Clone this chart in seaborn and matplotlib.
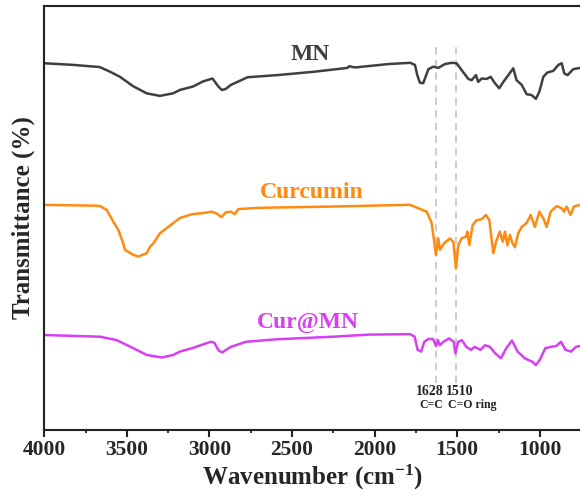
import numpy as np
import pandas as pd
import matplotlib
matplotlib.use("Agg")
import matplotlib.pyplot as plt
import seaborn as sns

# ---------------- data ----------------
mn_wn = [4000, 3821, 3664, 3602, 3542, 3463, 3380, 3300, 3221, 3179, 3100, 3040, 2982, 2948, 2926,
         2903, 2870, 2769, 2590, 2366, 2165, 2154, 2120, 1919, 1785, 1756, 1742, 1726, 1706, 1692,
         1675, 1645, 1615, 1575, 1534, 1504, 1474, 1433, 1413, 1387, 1373, 1352, 1322, 1298, 1272,
         1246, 1221, 1191, 1161, 1141, 1110, 1080, 1050, 1024, 1003, 979, 955, 919, 888, 868, 852,
         832, 798, 757]
mn_t = [86.5, 86.1, 85.6, 84.5, 83.3, 81.1, 79.4, 78.8, 79.4, 80.2, 81.0, 82.2, 82.9, 81.1, 80.2,
        80.4, 81.4, 83.2, 83.7, 84.5, 85.4, 85.8, 85.5, 86.3, 86.6, 86.1, 83.7, 81.9, 81.8, 83.3,
        85.1, 85.7, 85.4, 86.3, 86.6, 86.5, 84.9, 82.8, 82.5, 83.7, 82.1, 82.9, 82.8, 83.3, 81.8,
        80.6, 82.1, 83.7, 85.3, 82.5, 81.4, 79.2, 79.0, 78.1, 79.8, 83.3, 84.3, 84.7, 86.1, 86.5,
        84.1, 83.7, 85.1, 85.4]

cur_wn = [4000, 3687, 3662, 3622, 3582, 3552, 3522, 3512, 3461, 3431, 3380, 3360, 3340, 3300, 3219,
          3179, 3105, 3060, 3015, 2988, 2959, 2926, 2903, 2870, 2847, 2825, 2702, 2254, 1807, 1786,
          1736, 1685, 1655, 1641, 1629, 1615, 1605, 1581, 1544, 1524, 1508, 1494, 1474, 1447, 1439,
          1427, 1407, 1383, 1353, 1326, 1306, 1282, 1262, 1242, 1225, 1211, 1197, 1181, 1165, 1151,
          1131, 1110, 1080, 1056, 1030, 1003, 979, 959, 935, 898, 868, 854, 838, 814, 794, 757]
cur_t = [53.1, 52.9, 52.8, 51.9, 49.1, 47.2, 44.0, 42.5, 41.3, 40.9, 41.7, 43.2, 44.0, 46.4, 48.8,
         50.0, 50.9, 51.1, 51.3, 51.5, 51.1, 50.2, 51.3, 51.5, 50.9, 52.1, 52.4, 52.7, 53.1, 53.1,
         52.3, 51.5, 48.8, 44.8, 41.3, 45.2, 42.5, 44.0, 45.2, 44.4, 38.1, 43.6, 45.2, 45.6, 46.8,
         43.6, 48.3, 49.5, 49.7, 50.7, 49.5, 41.7, 44.8, 46.8, 44.4, 46.8, 43.6, 46.0, 44.0, 43.1,
         46.4, 47.9, 48.8, 50.7, 47.9, 51.5, 49.9, 47.9, 51.5, 52.8, 52.3, 51.5, 52.7, 50.7, 52.7, 53.1]

cm_wn = [4000, 3662, 3562, 3461, 3380, 3289, 3219, 3179, 3105, 2993, 2971, 2944, 2922, 2900, 2870,
         2780, 2590, 2254, 2031, 1785, 1758, 1740, 1718, 1700, 1673, 1646, 1628, 1617, 1606, 1584,
         1550, 1521, 1512, 1494, 1472, 1445, 1416, 1394, 1359, 1332, 1303, 1270, 1236, 1203, 1169,
         1135, 1091, 1046, 1024, 1001, 967, 934, 901, 872, 845, 811, 782, 760]
cm_t = [22.4, 22.0, 21.2, 19.3, 17.7, 17.1, 17.7, 18.5, 19.3, 20.8, 20.6, 18.7, 18.3, 18.9, 19.6,
        20.8, 21.4, 22.0, 22.5, 22.6, 22.0, 18.9, 18.5, 20.8, 21.5, 21.4, 19.8, 21.2, 20.0, 20.8,
        21.6, 20.8, 18.1, 20.8, 21.2, 19.6, 18.9, 19.6, 18.9, 20.0, 19.6, 18.1, 16.9, 19.3, 21.1,
        18.5, 16.9, 16.1, 15.3, 16.5, 19.3, 19.6, 19.8, 20.8, 18.9, 18.5, 19.6, 19.8]

series_names = ["MN", "Curcumin", "Cur@MN"]
series_colors = ["#3f3f3f", "#ff8a12", "#d63ff2"]
marker_wn = [1628, 1510]
marker_labels = ["C=C", "C=O ring"]
x_ticks = [4000, 3500, 3000, 2500, 2000, 1500, 1000]

# ---------------- style ----------------
sns.set_theme(style="ticks")
plt.rcParams["font.family"] = ["Liberation Serif", "DejaVu Serif"]
plt.rcParams["font.weight"] = "bold"
plt.rcParams["mathtext.fontset"] = "custom"
plt.rcParams["mathtext.rm"] = "Liberation Serif:bold"
plt.rcParams["mathtext.bf"] = "Liberation Serif:bold"
plt.rcParams["mathtext.it"] = "Liberation Serif:bold"

df = pd.concat([
    pd.DataFrame({"wn": mn_wn, "T": mn_t, "s": "MN"}),
    pd.DataFrame({"wn": cur_wn, "T": cur_t, "s": "Curcumin"}),
    pd.DataFrame({"wn": cm_wn, "T": cm_t, "s": "Cur@MN"}),
])

fig = plt.figure(figsize=(5.8, 4.97), dpi=100)
ax = fig.add_axes([44.3 / 580, 1 - 430 / 497, 1 - 44.3 / 580, (430 - 6) / 497])

for name, col in zip(series_names, series_colors):
    sns.lineplot(data=df[df["s"] == name], x="wn", y="T", color=col, lw=1.8,
                 ax=ax, legend=False, estimator=None, sort=True)

for w in marker_wn:
    ax.vlines(w, 11.0, 91.3, colors="#c8c8c8", linestyles=(0, (4, 3)), lw=1.3, zorder=0)

ax.set_xlim(4000, 757)
ax.set_ylim(0, 100)
ax.set_xticks(x_ticks)
ax.set_xticks(np.arange(3750, 756, -500), minor=True)
ax.set_yticks([])
ax.tick_params(axis="x", which="major", direction="out", length=5, width=1.5,
               labelsize=15.5, pad=2.5, color="#222222")
ax.tick_params(axis="x", which="minor", direction="out", length=2.5, width=1.3, color="#222222")
for lab in ax.get_xticklabels():
    lab.set_fontweight("bold")

for side in ["left", "top", "bottom"]:
    ax.spines[side].set_linewidth(1.5)
    ax.spines[side].set_color("#222222")
ax.spines["right"].set_visible(False)

ax.set_xlabel(r"Wavenumber (cm$^{-1}$)", fontsize=18, fontweight="bold", labelpad=2)
ax.set_ylabel("Transmittance (%)", fontsize=18, fontweight="bold", labelpad=7)

label_pos = [(2389, 88.6), (2383, 56.0), (2405, 25.3)]
for name, col, (lx, ly) in zip(series_names, series_colors, label_pos):
    ax.text(lx, ly, name, color=col, fontsize=17, fontweight="bold", ha="center", va="center")

ax.text(1667, 9.1, "1628", fontsize=10, fontweight="bold", ha="center", va="center", color="#222222")
ax.text(1487, 9.1, "1510", fontsize=10, fontweight="bold", ha="center", va="center", color="#222222")
ax.text(1660, 5.9, marker_labels[0], fontsize=8.5, fontweight="bold", ha="center", va="center", color="#222222")
ax.text(1556, 5.9, marker_labels[1], fontsize=8.5, fontweight="bold", ha="left", va="center", color="#222222")

fig.savefig("out.png", dpi=100)
